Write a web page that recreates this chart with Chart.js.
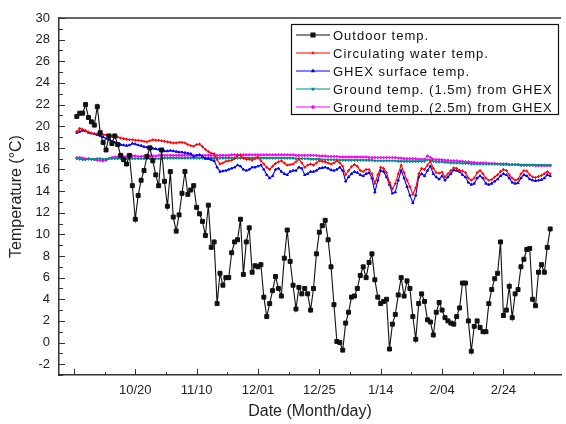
<!DOCTYPE html>
<html>
<head>
<meta charset="utf-8">
<script src="https://cdn.jsdelivr.net/npm/chart.js@4.4.0/dist/chart.umd.min.js"></script>
<style>
  html, body { margin: 0; padding: 0; background: #fff; }
  canvas { display: block; }
</style>
</head>
<body>
<canvas id="chart" width="566" height="424"></canvas>
<script>
// series names, in legend order
const seriesLabels = [
  'Outdoor temp.',
  'Circulating water temp.',
  'GHEX surface temp.',
  'Ground temp. (1.5m) from GHEX',
  'Ground temp. (2.5m) from GHEX'
];

// daily values, day 1 .. day 163
const outdoor = [
  20.9, 21.2, 21.2, 22.0, 20.8, 20.4, 20.1, 21.8, 19.4, 18.5,
  17.8, 19.1, 18.4, 19.1, 18.3, 17.3, 16.9, 16.5, 17.3, 14.5,
  11.4, 13.6, 15.0, 15.9, 17.2, 18.0, 16.8, 15.5, 14.5, 17.8,
  14.9, 12.6, 15.8, 11.6, 10.3, 11.8, 13.8, 15.8, 13.7, 14.1,
  14.5, 12.5, 11.9, 11.2, 9.9, 12.7, 8.8, 9.3, 3.6, 6.4,
  5.3, 6.0, 6.0, 8.3, 9.3, 9.5, 11.4, 6.3, 9.3, 10.6,
  6.5, 7.1, 7.0, 7.2, 4.2, 2.4, 3.6, 4.8, 6.1, 5.0,
  4.3, 7.8, 10.4, 7.5, 5.3, 3.1, 5.1, 4.5, 5.0, 4.5,
  3.0, 5.0, 8.2, 10.2, 10.8, 11.3, 9.5, 7.0, 3.5, 0.1,
  0.0, -0.7, 1.8, 2.8, 4.2, 4.3, 5.0, 6.2, 7.0, 6.0,
  7.4, 8.2, 5.8, 4.2, 3.6, 3.8, 4.0, -0.6, 1.7, 2.6,
  4.4, 6.0, 4.3, 5.7, 5.0, 2.4, 0.3, 3.6, 4.5, 3.8,
  2.1, 1.9, 0.7, 2.8, 3.7, 3.0, 2.3, 2.0, 1.8, 1.7,
  2.4, 3.2, 5.5, 5.5, 2.0, -0.8, 1.5, 2.0, 1.4, 1.0,
  1.0, 3.6, 4.9, 5.9, 6.4, 9.3, 2.5, 3.0, 5.2, 2.3,
  4.5, 4.9, 7.0, 7.7, 8.6, 8.7, 4.0, 3.4, 6.5, 7.2,
  6.5, 8.8, 10.5
];

const circulating = [
  19.5, 19.8, 19.7, 19.6, 19.45, 19.35, 19.3, 19.3, 19.3, 19.2,
  19.2, 19.15, 19.1, 19.0, 19.0, 18.9, 18.85, 18.8, 18.75, 18.75,
  18.7, 18.7, 18.65, 18.6, 18.55, 18.65, 18.75, 18.7, 18.7, 18.65,
  18.6, 18.55, 18.5, 18.45, 18.45, 18.5, 18.5, 18.45, 18.3, 18.2,
  18.15, 18.3, 18.35, 18.1, 17.85, 17.65, 17.5, 17.45, 16.9, 16.5,
  16.6, 16.75, 16.8, 16.85, 17.0, 17.3, 17.3, 17.05, 16.95, 16.95,
  16.85, 17.0, 17.15, 16.8, 16.5, 16.2, 16.0, 16.3, 16.55, 16.7,
  16.8, 16.6, 16.4, 16.45, 16.5, 16.7, 16.95, 16.6, 16.2, 16.4,
  16.5, 16.4, 16.6, 16.8, 16.75, 16.7, 16.6, 16.5, 16.6, 16.8,
  16.6, 16.3, 15.5, 15.9, 16.25, 16.45, 16.3, 15.9, 15.8, 16.0,
  16.0, 15.6, 14.7, 15.5, 16.2, 16.1, 15.7, 14.8, 14.2, 14.7,
  15.6, 16.4, 15.7, 15.0, 14.4, 13.7, 14.3, 15.6, 16.1, 16.0,
  16.4, 16.75, 16.1, 15.7, 15.65, 15.75, 15.3, 15.6, 15.9, 16.15,
  16.1, 15.9, 15.85, 15.7, 15.2, 15.0, 15.2, 15.7, 15.9, 15.6,
  15.2, 15.0, 15.05, 15.3, 15.5, 15.8, 16.0, 15.9, 15.5, 15.2,
  15.0, 15.1, 15.6, 15.9, 15.85, 15.5, 15.3, 15.25, 15.35, 15.45,
  15.6, 15.8, 15.6
];

const ghexSurface = [
  19.4, 19.5, 19.6, 19.55, 19.4, 19.35, 19.3, 19.2, 19.1, 19.0,
  18.85, 18.75, 18.6, 18.5, 18.4, 18.3, 18.25, 18.2, 18.25, 18.4,
  18.35, 18.25, 18.2, 18.1, 18.05, 18.0, 17.95, 17.9, 17.85, 17.8,
  17.7, 17.7, 17.75, 17.7, 17.65, 17.6, 17.6, 17.55, 17.5, 17.45,
  17.2, 17.3, 17.35, 17.2, 17.0, 17.0, 16.9, 16.8, 16.2, 15.8,
  15.85, 15.9, 16.0, 16.1, 16.2, 16.4, 16.3, 16.0, 15.9, 16.0,
  16.2, 16.2, 16.3, 16.4, 16.0, 15.5, 15.2, 15.4, 16.0, 16.1,
  15.8, 15.6, 15.5, 15.8, 15.9, 15.9, 16.2, 16.1, 15.5, 15.6,
  15.8, 15.8, 15.9, 16.1, 16.15, 16.2, 16.1, 15.95, 15.9, 16.0,
  16.2, 15.9, 14.9, 15.3, 15.6, 15.8, 15.7, 15.5, 15.4, 15.6,
  15.7, 15.2, 13.9, 15.0, 15.9, 15.8, 15.3, 14.6, 13.8, 13.9,
  15.0, 15.9, 15.2, 14.4, 13.6, 12.9, 13.6, 15.3, 15.6, 15.4,
  15.9, 16.3, 15.6, 15.3, 15.1, 15.4, 15.0, 15.3, 15.6, 15.95,
  15.9, 15.8, 15.5, 15.3, 14.8, 14.6, 14.7, 15.2, 15.4, 15.2,
  14.7, 14.6, 14.7, 14.9, 15.1, 15.4, 15.6, 15.5, 15.2, 14.8,
  14.7, 14.75, 15.2, 15.5, 15.4, 15.1, 15.0, 14.95, 15.0, 15.05,
  15.2, 15.5, 15.4
];

const ground15 = [
  17.0, 16.95, 16.9, 16.9, 16.95, 16.95, 16.95, 17.0, 17.0, 16.95,
  16.95, 17.0, 17.0, 17.0, 17.0, 17.0, 17.0, 17.0, 17.0, 17.0,
  17.0, 17.0, 17.0, 17.0, 17.0, 17.0, 17.0, 17.0, 17.0, 17.0,
  17.05, 17.05, 17.05, 17.05, 17.05, 17.05, 17.05, 17.05, 17.05, 17.05,
  17.05, 17.05, 17.05, 17.05, 17.05, 17.05, 17.05, 17.05, 17.05, 17.05,
  17.05, 17.05, 17.05, 17.05, 17.05, 17.05, 17.05, 17.05, 17.05, 17.05,
  17.05, 17.05, 17.05, 17.05, 17.05, 17.05, 17.05, 17.05, 17.05, 17.05,
  17.05, 17.05, 17.05, 17.05, 17.05, 17.0, 17.0, 17.0, 17.0, 17.0,
  16.95, 16.95, 16.95, 16.95, 16.9, 16.9, 16.9, 16.9, 16.9, 16.9,
  16.85, 16.85, 16.85, 16.85, 16.85, 16.85, 16.85, 16.85, 16.85, 16.85,
  16.85, 16.85, 16.8, 16.8, 16.8, 16.8, 16.8, 16.8, 16.8, 16.8,
  16.75, 16.75, 16.75, 16.75, 16.75, 16.75, 16.75, 16.75, 16.75, 16.75,
  16.9, 16.85, 16.75, 16.7, 16.7, 16.7, 16.65, 16.65, 16.6, 16.6,
  16.6, 16.6, 16.55, 16.55, 16.55, 16.5, 16.5, 16.5, 16.5, 16.5,
  16.5, 16.5, 16.5, 16.5, 16.5, 16.45, 16.45, 16.45, 16.45, 16.45,
  16.45, 16.45, 16.4, 16.4, 16.4, 16.4, 16.4, 16.4, 16.4, 16.4,
  16.4, 16.4, 16.4
];

const ground25 = [
  17.1, 17.1, 17.05, 17.0, 17.0, 16.95, 16.9, 16.85, 16.85, 16.8,
  16.85, 17.0, 17.1, 17.15, 17.15, 17.2, 17.2, 17.2, 17.25, 17.25,
  17.25, 17.2, 17.2, 17.25, 17.25, 17.25, 17.25, 17.25, 17.3, 17.3,
  17.3, 17.3, 17.3, 17.3, 17.3, 17.3, 17.3, 17.3, 17.3, 17.3,
  17.3, 17.3, 17.3, 17.3, 17.3, 17.3, 17.3, 17.3, 17.3, 17.3,
  17.3, 17.3, 17.3, 17.35, 17.35, 17.35, 17.35, 17.35, 17.35, 17.35,
  17.35, 17.35, 17.35, 17.35, 17.35, 17.35, 17.35, 17.35, 17.35, 17.35,
  17.35, 17.35, 17.35, 17.35, 17.35, 17.3, 17.3, 17.3, 17.3, 17.3,
  17.3, 17.3, 17.3, 17.25, 17.25, 17.25, 17.2, 17.2, 17.2, 17.2,
  17.15, 17.15, 17.15, 17.15, 17.15, 17.15, 17.15, 17.15, 17.15, 17.15,
  17.1, 17.1, 17.1, 17.1, 17.1, 17.1, 17.1, 17.1, 17.1, 17.1,
  17.05, 17.05, 17.0, 17.0, 17.0, 17.0, 17.0, 16.95, 16.95, 16.95,
  17.25, 17.1, 16.95, 16.9, 16.9, 16.9, 16.85, 16.85, 16.8, 16.8,
  16.8, 16.75, 16.75, 16.7, 16.7, 16.65, 16.65, 16.6, 16.6, 16.6,
  16.6, 16.55, 16.55, 16.55, 16.5, 16.5, 16.5, 16.5, 16.45, 16.45,
  16.45, 16.45, 16.4, 16.4, 16.4, 16.4, 16.4, 16.35, 16.35, 16.35,
  16.35, 16.35, 16.35
];

// x axis: day number, labels every 21 days
const tickDays = [21, 42, 63, 84, 105, 126, 147];
const tickLabels = ['10/20', '11/10', '12/01', '12/25', '1/14', '2/04', '2/24'];

const FONT = "'Liberation Sans', Arial, sans-serif";
Chart.defaults.font.family = FONT;
Chart.defaults.color = '#222';

const toPoints = vals => vals.map((v, i) => ({ x: i + 1, y: v }));

// frame top line + inward tick marks (major / minor)
const axisTicks = {
  id: 'axisTicks',
  afterDraw(chart) {
    const { ctx, chartArea: a, scales: { x, y } } = chart;
    ctx.save();
    ctx.strokeStyle = '#333';
    ctx.lineWidth = 1;
    const seg = (x1, y1, x2, y2) => {
      ctx.beginPath(); ctx.moveTo(x1, y1); ctx.lineTo(x2, y2); ctx.stroke();
    };
    ctx.lineWidth = 1.5;
    seg(a.left, a.top, a.right, a.top);
    ctx.lineWidth = 1;
    for (let v = y.min; v <= y.max; v++) {
      const py = Math.round(y.getPixelForValue(v)) + 0.5;
      seg(a.left, py, a.left + (v % 2 === 0 ? 6 : 4), py);
    }
    const majors = [0, ...tickDays, 168];
    majors.forEach((d, i) => {
      const px = Math.round(x.getPixelForValue(d)) + 0.5;
      if (px <= a.right) seg(px, a.bottom, px, a.bottom - 6);
      if (i < majors.length - 1) {
        const mx = Math.round(x.getPixelForValue((d + majors[i + 1]) / 2)) + 0.5;
        if (mx <= a.right) seg(mx, a.bottom, mx, a.bottom - 3);
      }
    });
    ctx.restore();
  }
};

// boxed legend inside the plot, top right
const boxLegend = {
  id: 'boxLegend',
  afterDraw(chart) {
    const ctx = chart.ctx;
    const left = 291, top = 24, w = 267, h = 90;
    ctx.save();
    ctx.fillStyle = '#fff';
    ctx.fillRect(left, top, w, h);
    ctx.strokeStyle = '#111';
    ctx.lineWidth = 1.2;
    ctx.strokeRect(left + 0.5, top + 0.5, w, h);
    ctx.font = '13px ' + FONT;
    ctx.textBaseline = 'middle';
    ctx.letterSpacing = '1px';
    chart.data.datasets.forEach((ds, i) => {
      const ly = top + 11 + i * 18;
      ctx.strokeStyle = ds.borderColor;
      ctx.lineWidth = 1.2;
      ctx.beginPath(); ctx.moveTo(left + 5, ly); ctx.lineTo(left + 39, ly); ctx.stroke();
      ctx.fillStyle = ds.pointBackgroundColor;
      Chart.helpers.drawPoint(ctx, {
        pointStyle: ds.pointStyle, rotation: ds.pointRotation || 0,
        radius: ds.pointRadius, borderWidth: 1
      }, left + 22, ly);
      ctx.fillStyle = '#111';
      ctx.fillText(ds.label, left + 42, ly + 1);
    });
    ctx.restore();
  }
};

const mk = (i, data, color, style, radius, rot) => ({
  label: seriesLabels[i],
  data: toPoints(data),
  borderColor: color,
  backgroundColor: color,
  pointBackgroundColor: color,
  pointBorderColor: color,
  pointStyle: style,
  pointRadius: radius,
  pointRotation: rot || 0,
  pointBorderWidth: 1,
  borderWidth: 1.1,
  tension: 0
});

new Chart(document.getElementById('chart'), {
  type: 'line',
  data: {
    datasets: [
      mk(0, outdoor, '#111', 'rect', 2.8),
      mk(1, circulating, '#ff0000', 'cross', 1.5),
      mk(2, ghexSurface, '#0000ff', 'triangle', 1.3),
      mk(3, ground15, '#008b8b', 'triangle', 1.3, 180),
      mk(4, ground25, '#ff00ff', 'rectRot', 1.3)
    ]
  },
  options: {
    responsive: false,
    animation: false,
    devicePixelRatio: 1,
    layout: { padding: { top: 18, right: 0, bottom: 0, left: 0 } },
    plugins: { legend: { display: false }, tooltip: { enabled: false } },
    scales: {
      x: {
        type: 'linear',
        min: -5.1,
        max: 166.7,
        afterFit: s => { s.height = 49; },
        afterBuildTicks: s => { s.ticks = tickDays.map(v => ({ value: v })); },
        grid: { display: false, drawTicks: false },
        border: { display: true, color: '#333', width: 1.5 },
        ticks: {
          padding: 8,
          autoSkip: false,
          maxRotation: 0,
          font: { size: 13 },
          callback: v => tickLabels[tickDays.indexOf(v)] || ''
        },
        title: {
          display: true,
          text: 'Date (Month/day)',
          font: { size: 16 },
          color: '#222',
          padding: { top: 0, bottom: 3 }
        }
      },
      y: {
        min: -3,
        max: 30,
        afterFit: s => { s.width = 59; },
        grid: { display: false, drawTicks: false },
        border: { display: true, color: '#333', width: 1.5 },
        ticks: {
          stepSize: 1,
          padding: 9,
          autoSkip: false,
          font: { size: 13 },
          callback: v => (v % 2 === 0 ? String(v) : '')
        },
        title: {
          display: true,
          text: 'Temperature (°C)',
          font: { size: 16 },
          color: '#222',
          padding: { top: 7, bottom: 0 }
        }
      }
    }
  },
  plugins: [axisTicks, boxLegend]
});
</script>
</body>
</html>
